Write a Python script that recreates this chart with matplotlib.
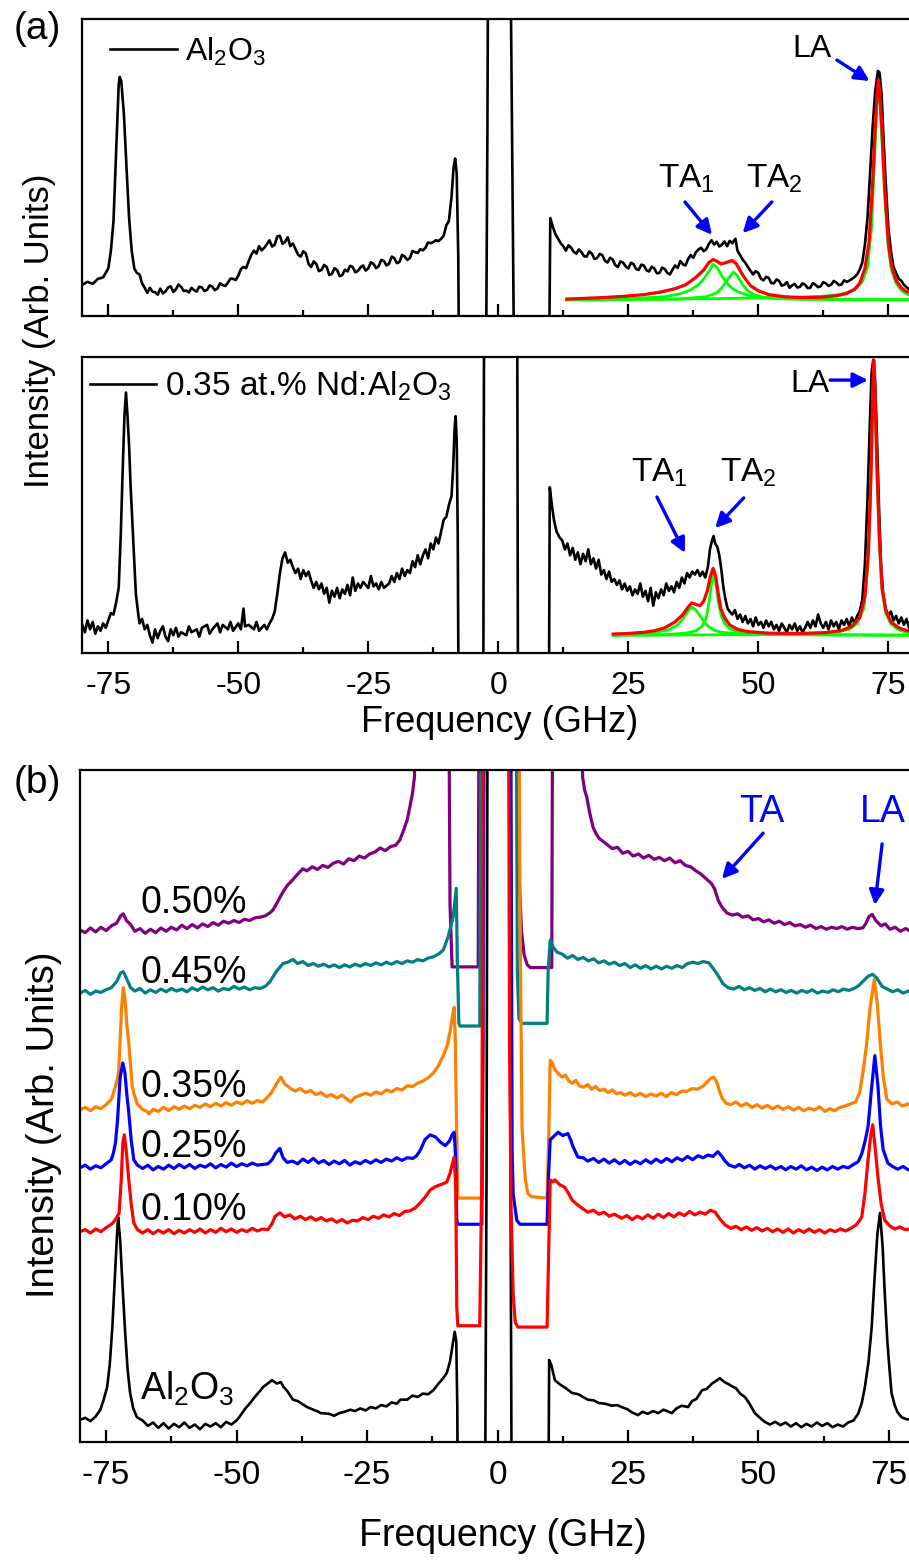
import matplotlib
matplotlib.use('Agg')
import matplotlib.pyplot as plt
from matplotlib.ticker import MultipleLocator

plt.rcParams['font.family'] = ['Liberation Sans', 'DejaVu Sans']
plt.rcParams['mathtext.fontset'] = 'custom'
plt.rcParams['mathtext.rm'] = 'Liberation Sans'
plt.rcParams['mathtext.it'] = 'Liberation Sans:italic'
plt.rcParams['mathtext.bf'] = 'Liberation Sans:bold'
plt.rcParams['mathtext.default'] = 'regular'
plt.rcParams['axes.unicode_minus'] = False

# ---- panel (a), top: pure Al2O3 spectrum (freq GHz, intensity arb.) ----
a1_al2o3 = [
    (-80, 10.5), (-79, 11.5), (-78, 10.8), (-77, 12.5), (-76, 13), (-75.5, 14.5), (-75, 16), (-74.5, 22),
    (-74, 32), (-73.5, 55), (-73, 78), (-72.8, 80.5), (-72.5, 79), (-72, 68), (-71.5, 50), (-71, 33),
    (-70.5, 22), (-70, 16), (-69.5, 14.5), (-69, 14), (-68.5, 11), (-68, 9.5), (-67.5, 7.8), (-67, 9.5),
    (-66.5, 8.2), (-66, 8), (-65.5, 7.2), (-65, 9.2), (-64.5, 7.6), (-64, 8.3), (-63.5, 9.6), (-63, 10),
    (-62.5, 8.1), (-62, 9), (-61.5, 10.6), (-61, 9.8), (-60.5, 8.4), (-60, 8.6), (-59.5, 7.9), (-59, 9.5),
    (-58.5, 8.7), (-58, 8.2), (-57.5, 9.9), (-57, 9.6), (-56.5, 8.4), (-56, 8.8), (-55.5, 10.3), (-55, 9.9),
    (-54.5, 8.7), (-54, 9.3), (-53.5, 11), (-53, 10.4), (-52.5, 10.1), (-52, 11.2), (-51.5, 12.6), (-51, 12.5),
    (-50.5, 12.1), (-50, 13.6), (-49.5, 15.8), (-49, 16.5), (-48.5, 16.1), (-48, 18.5), (-47.5, 20.6), (-47, 22),
    (-46.5, 21), (-46, 23.5), (-45.5, 22.1), (-45, 23), (-44.5, 24.2), (-44, 25.5), (-43.5, 23.4), (-43, 24),
    (-42.5, 26.8), (-42, 27), (-41.5, 24.3), (-41, 25), (-40.5, 26.5), (-40, 23.5), (-39.5, 24.4), (-39, 22.5),
    (-38.5, 20.6), (-38, 20), (-37.5, 21.8), (-37, 21), (-36.5, 17.6), (-36, 16.5), (-35.5, 18.4), (-35, 17.5),
    (-34.5, 15.1), (-34, 15.5), (-33.5, 17.2), (-33, 16.5), (-32.5, 13.8), (-32, 14.2), (-31.5, 16.1), (-31, 15.5),
    (-30.5, 13.4), (-30, 13.8), (-29.5, 15.6), (-29, 15), (-28.5, 16.9), (-28, 16.5), (-27.5, 14.7), (-27, 15.2),
    (-26.5, 16.4), (-26, 17), (-25.5, 15.3), (-25, 16), (-24.5, 18.1), (-24, 17.5), (-23.5, 16.1), (-23, 16.8),
    (-22.5, 18.9), (-22, 18.5), (-21.5, 17), (-21, 17.6), (-20.5, 20), (-20, 19.5), (-19.5, 17.8), (-19, 18.2),
    (-18.5, 20.6), (-18, 20), (-17.5, 18.9), (-17, 19.5), (-16.5, 21.9), (-16, 21.5), (-15.5, 21.2), (-15, 22.5),
    (-14.5, 22.1), (-14, 23), (-13.5, 24.8), (-13, 24.5), (-12.5, 24.9), (-12, 25.5), (-11.5, 25.2), (-11, 26),
    (-10.5, 27), (-10, 30.5), (-9.5, 32), (-9, 40), (-8.6, 50), (-8.3, 53), (-8, 48), (-7.7, 20),
    (-7.5, -30), (-2.4, -30), (-2.1, 60), (-1.9, 150), (2.2, 150), (2.7, 50), (3.1, -30), (9.7, -30),
    (10, 33), (10.5, 30), (11, 27.5), (11.5, 26), (12, 24.5), (12.5, 23.5), (13, 22), (13.5, 23.8),
    (14, 23), (14.5, 21.6), (15, 21), (15.5, 22.4), (16, 21.5), (16.5, 20.1), (17, 20), (17.5, 21.7),
    (18, 21), (18.5, 19.2), (19, 19.5), (19.5, 20.9), (20, 20.5), (20.5, 18.6), (21, 18), (21.5, 19.6),
    (22, 19), (22.5, 17.1), (23, 16.5), (23.5, 18.4), (24, 18), (24.5, 16.7), (25, 16), (25.5, 17.9),
    (26, 17.5), (26.5, 15.8), (27, 15.5), (27.5, 17.3), (28, 17), (28.5, 15.4), (29, 15), (29.5, 16.6),
    (30, 16), (30.5, 14.4), (31, 14.5), (31.5, 16.3), (32, 15.8), (32.5, 14.5), (33, 14), (33.5, 15.6),
    (34, 17), (34.5, 16.2), (35, 18.5), (35.5, 17.4), (36, 17), (36.5, 19.2), (37, 20.5), (37.5, 19.6),
    (38, 21.5), (38.5, 22.4), (39, 23), (39.5, 21.8), (40, 22.5), (40.5, 24.3), (41, 25.5), (41.5, 24.1),
    (42, 25), (42.5, 23.4), (43, 24), (43.5, 25.1), (44, 23.5), (44.5, 25.3), (45, 24.5), (45.6, 26),
    (46, 22), (46.5, 20.5), (47, 19), (47.5, 17.9), (48, 16.5), (48.5, 15.2), (49, 14), (49.5, 15.1),
    (50, 14.5), (50.5, 12.6), (51, 12), (51.5, 13.2), (52, 12.8), (52.5, 11.1), (53, 11), (53.5, 12.3),
    (54, 11.8), (54.5, 10.2), (55, 10.5), (55.5, 11.4), (56, 9.5), (56.5, 10.3), (57, 10.8), (57.5, 9.6),
    (58, 9.8), (58.5, 11), (59, 10.5), (59.5, 9.4), (60, 9.5), (60.5, 11.1), (61, 10.5), (61.5, 9.7),
    (62, 10), (62.5, 11.4), (63, 11), (63.5, 10.1), (64, 10.5), (64.5, 11.8), (65, 11.3), (65.5, 10.4),
    (66, 10.6), (66.5, 12), (67, 11.5), (67.5, 11.9), (68, 12.5), (68.5, 13.1), (69, 14), (69.5, 15.6),
    (70, 18), (70.5, 24), (71, 33), (71.5, 48), (72, 64), (72.5, 76), (73, 82.5), (73.3, 82),
    (73.7, 75), (74, 63), (74.5, 45), (75, 30), (75.5, 22), (76, 16.5), (76.5, 14.5), (77, 12.5),
    (77.5, 11.9), (78, 10.5), (78.5, 9.7), (79, 9), (79.5, 9.3), (80, 8.5),
]
a1_fit_sum = [
    (13.2, 5.7), (16, 5.9), (20, 6.2), (24, 6.6), (28, 7.2), (31, 8), (34, 9.2), (36, 10.5),
    (38, 13), (39.5, 15.5), (40.5, 18), (41.3, 19), (42, 18.5), (42.8, 17.5), (43.8, 18), (45, 18.7),
    (45.8, 17.5), (46.6, 15), (47.5, 12.5), (48.5, 10.2), (50, 8.5), (52, 7.2), (55, 6.5), (58, 6.2),
    (62, 6.3), (65, 6.8), (67, 7.6), (68.5, 9), (69.5, 11), (70.5, 16), (71.3, 25), (72, 45),
    (72.5, 64), (72.8, 74), (73.1, 79.5), (73.4, 74), (73.8, 62), (74.3, 43), (75, 25), (75.6, 17),
    (76.5, 12), (77.5, 9.5), (78.5, 8.2), (80, 7.8),
]
a1_fit_ta1 = [
    (13.2, 5.5), (25, 5.8), (32, 6.5), (35, 7.5), (37, 8.8), (38.5, 10.5), (39.5, 12.5), (40.5, 15),
    (41.3, 17.4), (42, 16.5), (43, 13.5), (44, 11), (45, 9.3), (46, 8.2), (48, 7), (50, 6.3),
    (55, 5.8), (60, 5.6), (80, 5.5),
]
a1_fit_ta2 = [
    (13.2, 5.4), (35, 5.7), (40, 6.5), (42, 7.8), (43, 9.5), (44, 12), (45.2, 14.8), (46, 13.5),
    (47, 10.5), (48, 8.5), (49, 7.3), (51, 6.3), (55, 5.8), (65, 5.5), (80, 5.4),
]
a1_fit_la = [
    (13.2, 5.5), (40, 5.8), (55, 6.2), (62, 6.6), (66, 7.3), (68.5, 8.8), (70, 11.5), (71, 16.5),
    (71.8, 30), (72.4, 55), (72.8, 71), (73.1, 77.5), (73.4, 72), (73.8, 58), (74.4, 38), (75, 23),
    (75.6, 15.5), (76.5, 11), (77.5, 8.6), (78.5, 7.4), (80, 6.6),
]

# ---- panel (a), bottom: 0.35 at.% Nd:Al2O3 ----
a2_nd035 = [
    (-80, 9.5), (-79.5, 7), (-79, 11), (-78.5, 8), (-78, 10.5), (-77.5, 6.5), (-77, 9), (-76.5, 7.5),
    (-76, 10), (-75.5, 8.5), (-75, 11), (-74.5, 13.5), (-74, 13), (-73.5, 17), (-73, 22), (-72.6, 40),
    (-72.3, 58), (-71.9, 80), (-71.6, 88), (-71.3, 80), (-71, 70), (-70.7, 56), (-70.4, 45), (-70, 30),
    (-69.7, 20), (-69.3, 14), (-69, 10), (-68.5, 11.5), (-68, 8), (-67.5, 9.5), (-67, 6), (-66.5, 3.5),
    (-66, 8), (-65.5, 5), (-65, 7.5), (-64.5, 9), (-64, 5.5), (-63.5, 4), (-63, 8), (-62.5, 6),
    (-62, 8.5), (-61.5, 5.5), (-61, 7), (-60, 6), (-59.5, 9), (-59, 7), (-58, 8), (-57.5, 5.5),
    (-57, 8.5), (-56, 9.5), (-55.5, 6.5), (-55, 8), (-54, 10), (-53.5, 7), (-53, 9.5), (-52, 8),
    (-51.5, 10.5), (-51, 7.5), (-50, 10), (-49.5, 8), (-49, 15), (-48.7, 9), (-48, 9.5), (-47, 8),
    (-46.5, 10.5), (-46, 7.5), (-45, 9.5), (-44.5, 8), (-44, 10), (-43.5, 11.5), (-43, 14), (-42.5, 20),
    (-42, 27), (-41.5, 32), (-41, 34), (-40.5, 30.5), (-40, 31.5), (-39.5, 29), (-39, 27), (-38.5, 28.5),
    (-38, 25), (-37.5, 28), (-37, 26), (-36.5, 27.5), (-36, 24.5), (-35.5, 22), (-35, 24), (-34.5, 21.5),
    (-34, 23.5), (-33.5, 20), (-33, 22), (-32.5, 17), (-32, 21), (-31.5, 19), (-31, 22), (-30.5, 18.5),
    (-30, 21.5), (-29.5, 20), (-29, 23), (-28.5, 19.5), (-28, 25.5), (-27.5, 21), (-27, 23.5), (-26.5, 22),
    (-26, 24), (-25, 22), (-24.5, 26), (-24, 22.5), (-23.5, 23.5), (-23, 21.5), (-22.5, 24), (-22, 22),
    (-21, 23.5), (-20.5, 26), (-20, 24), (-19.5, 27), (-19, 25), (-18.5, 28.5), (-18, 26), (-17.5, 28),
    (-17, 27), (-16.5, 31), (-16, 29), (-15.5, 33), (-15, 30), (-14.5, 33), (-14, 35), (-13.5, 32),
    (-13, 37), (-12.5, 35), (-12, 39), (-11.5, 37), (-11, 41), (-10.5, 45), (-10, 46), (-9.5, 50),
    (-9, 53), (-8.7, 62), (-8.4, 76), (-8.2, 80), (-8, 72), (-7.8, 40), (-7.6, -30), (-2.9, -30),
    (-2.7, 150), (3.6, 150), (3.8, -30), (9.7, -30), (9.9, 56), (10.3, 50), (10.7, 45), (11.2, 41),
    (11.8, 39), (12.3, 38), (12.8, 35), (13.3, 37), (13.8, 33), (14.3, 35.5), (14.8, 31.5), (15.3, 34),
    (15.8, 30), (16.3, 33.5), (16.8, 31), (17.3, 35), (17.8, 30), (18.3, 32), (18.8, 28.5), (19.3, 31.5),
    (19.8, 26.5), (20.3, 28), (20.8, 25), (21.3, 27.5), (21.8, 24), (22.3, 25), (22.8, 23), (23.3, 24.5),
    (23.8, 21.5), (24.3, 23.5), (24.8, 21), (25.3, 22.5), (25.8, 19.5), (26.3, 21.5), (26.8, 20), (27.3, 23.5),
    (27.8, 19), (28.3, 21), (28.8, 17.5), (29.3, 22), (29.8, 16), (30.3, 20.5), (30.8, 18.5), (31.3, 21.5),
    (31.8, 19.5), (32.3, 23.5), (32.8, 21), (33.3, 22.5), (33.8, 20.5), (34.3, 24), (34.8, 22), (35.3, 25.5),
    (35.8, 23.5), (36.3, 27), (36.8, 25.5), (37.3, 27.5), (37.8, 26.5), (38.3, 28), (38.8, 26), (39.3, 27.5),
    (39.8, 25.5), (40.3, 29), (40.7, 35), (41.1, 38), (41.4, 39.5), (41.7, 37), (42.1, 36), (42.5, 33),
    (42.9, 28), (43.3, 22), (43.7, 18), (44.1, 15), (44.5, 14), (45, 13), (45.5, 14.5), (46, 11.5),
    (46.5, 13), (47, 10.5), (47.5, 12.5), (48, 10), (48.5, 11.5), (49, 9), (49.5, 12), (50, 9.5),
    (50.5, 10.5), (51, 8.5), (51.5, 11), (52, 9), (52.5, 10.5), (53, 8), (53.5, 9.5), (54, 7.5),
    (54.5, 10), (55, 8.5), (55.5, 7), (56, 9.5), (56.5, 8), (57, 10), (57.5, 7.5), (58, 9),
    (58.5, 7), (59, 8.5), (59.5, 10.5), (60, 8.5), (60.5, 11), (61, 9), (61.5, 13), (62, 10),
    (62.5, 8.5), (63, 10.5), (63.5, 8), (64, 11), (64.5, 9), (65, 10.5), (65.5, 8), (66, 11),
    (66.5, 9.5), (67, 11.5), (67.5, 9), (68, 12), (68.5, 10), (69, 12.5), (69.5, 14), (70, 18),
    (70.5, 30), (71, 52), (71.4, 75), (71.8, 95), (72.1, 99), (72.4, 95), (72.8, 74), (73.2, 50),
    (73.6, 30), (74, 20), (74.5, 15), (75, 12.5), (75.5, 14), (76, 11), (76.5, 12.5), (77, 10),
    (77.5, 12), (78, 9.5), (78.5, 11.5), (79, 8.5), (79.5, 10), (80, 9),
]
a2_fit_sum = [
    (22.1, 6.4), (25, 6.6), (28, 7), (30, 7.5), (32, 8.5), (34, 10.5), (35.5, 13), (36.5, 15.5),
    (37.2, 16.9), (38, 16.4), (38.8, 16), (39.5, 17.5), (40.2, 21), (40.8, 26), (41.3, 28.6), (41.8, 26),
    (42.3, 20), (42.8, 15), (43.5, 12), (44.5, 9.5), (46, 8), (48, 7.2), (52, 6.7), (58, 6.6),
    (63, 6.9), (66, 7.6), (68, 9), (69.5, 12), (70.5, 19), (71.2, 35), (71.7, 62), (72, 88),
    (72.2, 99), (72.4, 90), (72.8, 64), (73.3, 38), (73.8, 22), (74.5, 14.5), (75.5, 10.5), (77, 8.5),
    (78.5, 7.6), (80, 7.1),
]
a2_fit_ta1 = [
    (22.1, 6.2), (28, 6.6), (31, 7.2), (33, 8), (34.5, 9.5), (35.5, 11.5), (36.3, 13.8), (37.2, 15.5),
    (38, 14.5), (38.8, 12.5), (39.6, 10.5), (40.5, 8.8), (41.5, 7.7), (43, 7), (46, 6.5), (52, 6.2),
    (65, 6.1), (80, 6.0),
]
a2_fit_ta2 = [
    (22.1, 6.0), (32, 6.2), (36, 6.7), (38, 7.5), (39.2, 9), (40, 12), (40.6, 18), (41, 23.5),
    (41.4, 27), (41.8, 24), (42.3, 17.5), (42.8, 13), (43.5, 10), (44.5, 8.2), (46, 7.2), (50, 6.5),
    (60, 6.2), (80, 6.0),
]
a2_fit_la = [
    (22.1, 6.0), (50, 6.2), (60, 6.5), (65, 7.0), (67.5, 8), (69, 10), (70.3, 15), (71.1, 30),
    (71.6, 55), (72, 85), (72.2, 98), (72.4, 88), (72.8, 62), (73.3, 36), (73.8, 21), (74.5, 13.5),
    (75.5, 9.8), (77, 7.8), (78.5, 7), (80, 6.6),
]

# ---- panel (b): stacked spectra for the Nd concentrations ----
b_050 = [
    (-80, 76.2), (-79, 75.8), (-78, 76.5), (-77, 75.9), (-76, 76.6), (-75, 76.1), (-74, 76.8), (-73, 77.2),
    (-72.2, 78.3), (-71.7, 78.6), (-71.1, 77.6), (-70.3, 77), (-69.5, 76), (-68.5, 76.4), (-67.5, 75.7), (-66.5, 76.3),
    (-65.5, 75.8), (-64.5, 76.5), (-63.5, 76), (-62.5, 76.6), (-61.5, 76.2), (-60.5, 76.9), (-59.5, 76.4), (-58.5, 77),
    (-57.5, 76.5), (-56.5, 77.1), (-55.5, 76.7), (-54.5, 77.3), (-53.5, 76.9), (-52.5, 77.5), (-51.5, 77.2), (-50.5, 77.6),
    (-49.5, 77.3), (-48.5, 77.8), (-47.5, 77.6), (-46.5, 78), (-45.5, 78.1), (-44.5, 78.3), (-43.7, 78.7), (-43, 79.2),
    (-42.2, 80.3), (-41.3, 81.6), (-40.3, 82.8), (-39.3, 83.6), (-38.3, 84.5), (-37.3, 85.3), (-36.5, 85), (-35.5, 85.6),
    (-34.5, 85.2), (-33.5, 85.8), (-32.5, 85.5), (-31.5, 86.1), (-30.5, 86.4), (-29.5, 86), (-28.5, 86.8), (-27.5, 86.5),
    (-26.5, 87.2), (-25.5, 86.9), (-24.5, 87.5), (-23.5, 87.8), (-22.5, 88.4), (-21.5, 88), (-20.5, 88.6), (-19.5, 88.8),
    (-18.7, 89.6), (-18, 91), (-17.3, 92.6), (-16.8, 94.5), (-16.3, 96.5), (-15.9, 99), (-15.7, 150), (-9.6, 150),
    (-9.1, 80), (-8.7, 70.7), (-3.7, 70.7), (-3.4, 150), (3.7, 150), (4.1, 85), (4.6, 76), (5.1, 72.5),
    (5.7, 71), (6.3, 70.6), (10.4, 70.6), (10.7, 150), (16.1, 150), (16.3, 99), (16.7, 97), (17.1, 96),
    (17.7, 93.5), (18.3, 91.5), (18.9, 90.5), (19.5, 89.8), (20.2, 89.4), (21, 88.9), (22, 88.3), (23, 88.5),
    (24, 87.6), (25, 87.9), (26, 87.2), (27, 87.5), (28, 86.9), (29, 87.3), (30, 86.7), (31, 87),
    (32, 86.5), (33, 86.9), (34, 86.2), (35, 86.5), (36, 85.8), (37, 85.6), (38, 85), (39, 84.5),
    (40, 83.8), (41, 83.1), (41.6, 82.3), (42.3, 80.6), (43, 79.6), (44, 78.7), (45, 78.4), (46, 78.6),
    (47, 78.1), (48, 78.3), (49, 77.7), (50, 77.9), (51, 77.4), (52, 77.7), (53, 77.2), (54, 77.5),
    (55, 77), (56, 77.3), (57, 76.8), (58, 77), (59, 76.6), (60, 76.9), (61, 76.4), (62, 76.7),
    (63, 76.3), (64, 76.6), (65, 76.4), (66, 76.7), (67, 76.3), (68, 76.6), (69, 76.4), (70, 76.5),
    (70.6, 77.2), (71.2, 78.2), (71.8, 78.5), (72.5, 77.6), (73.5, 76.8), (74.3, 77.1), (75.2, 76.3), (76.2, 76.6),
    (77.2, 76), (78.2, 76.4), (79.2, 76), (80, 76.2),
]
b_045 = [
    (-80, 66.8), (-79, 67.2), (-78, 66.6), (-77, 67.1), (-76, 66.9), (-75, 67.3), (-74, 67.6), (-73, 68.5),
    (-72.2, 69.8), (-71.7, 70), (-71.1, 69), (-70.3, 67.6), (-69.5, 67.1), (-68.5, 67.5), (-67.5, 66.8), (-66.5, 67.3),
    (-65.5, 66.9), (-64.5, 67.4), (-63.5, 67), (-62.5, 67.5), (-61.5, 67.1), (-60.5, 67.4), (-59.5, 67), (-58.5, 67.6),
    (-57.5, 67.2), (-56.5, 67.7), (-55.5, 67.3), (-54.5, 67.6), (-53.5, 67.1), (-52.5, 67.5), (-51.5, 67.3), (-50.5, 67.8),
    (-49.5, 67.4), (-48.5, 67.7), (-47.5, 67.3), (-46.5, 67.6), (-45.5, 67.5), (-44.5, 67.8), (-43.6, 68.5), (-42.4, 70),
    (-41.1, 71.2), (-40.2, 71.4), (-39.2, 71.8), (-38.3, 71.2), (-37.3, 71.5), (-36.3, 70.9), (-35.3, 71.2), (-34.3, 70.8),
    (-33.3, 71.1), (-32.3, 70.7), (-31.3, 71), (-30.3, 70.6), (-29.3, 71), (-28.3, 70.7), (-27.3, 71.1), (-26.3, 70.8),
    (-25.3, 71.2), (-24.3, 70.9), (-23.3, 71.3), (-22.3, 71), (-21.3, 71.4), (-20.3, 71.1), (-19.3, 71.5), (-18.3, 71.2),
    (-17.3, 71.6), (-16.3, 71.4), (-15.3, 71.8), (-14.3, 71.6), (-13.3, 72), (-12.3, 72.2), (-11.3, 72.6), (-10.4, 73.2),
    (-9.5, 75.1), (-8.5, 78.1), (-7.9, 82.4), (-7.7, 71.7), (-7.4, 62.3), (-7.2, 61.9), (-3.4, 61.9), (-2.9, 150),
    (3.4, 150), (3.8, 70), (4.1, 63), (4.7, 62.3), (9.5, 62.3), (9.7, 70), (10.1, 74.7), (10.7, 73.6),
    (11.4, 72.9), (12.4, 72.6), (13.4, 72), (14.4, 72.4), (15.4, 71.8), (16.4, 72.1), (17.4, 71.6), (18.4, 71.9),
    (19.4, 71.3), (20.4, 71.6), (21.4, 71.1), (22.4, 71.4), (23.4, 70.9), (24.4, 71.2), (25.4, 70.6), (26.4, 71),
    (27.4, 70.5), (28.4, 70.9), (29.4, 70.4), (30.4, 70.8), (31.4, 70.4), (32.4, 70.8), (33.4, 70.5), (34.4, 70.9),
    (35.4, 70.6), (36.4, 71.2), (37.4, 71.4), (38.4, 71.2), (39.4, 71.5), (40.5, 71.3), (41.3, 70.5), (42.2, 69.5),
    (43.2, 68.2), (44.2, 67.6), (45.3, 67.4), (46.3, 67.8), (47.3, 67.3), (48.3, 67.6), (49.3, 67.2), (50.3, 67.5),
    (51.3, 67), (52.3, 67.4), (53.3, 67), (54.3, 67.3), (55.3, 66.9), (56.3, 67.2), (57.3, 66.8), (58.3, 67.2),
    (59.3, 66.9), (60.3, 67.3), (61.3, 66.8), (62.3, 67.1), (63.3, 66.9), (64.3, 67.3), (65.3, 67), (66.3, 67.4),
    (67.3, 67.2), (68.3, 67.5), (69.2, 67.9), (70.1, 68.6), (71, 69.3), (71.9, 69.6), (72.7, 69), (73.7, 67.8),
    (74.7, 67.4), (75.7, 67), (76.7, 67.3), (77.7, 66.8), (78.7, 67.1), (80, 66.8),
]
b_035 = [
    (-80, 49.4), (-79, 49.8), (-78, 49.3), (-77, 49.9), (-76, 49.6), (-75, 50.2), (-74, 51), (-73.6, 51.9),
    (-73, 53.5), (-72.6, 55), (-72.3, 60), (-72, 65), (-71.7, 67.6), (-71.4, 66), (-71, 62), (-70.7, 59.8),
    (-70.3, 56), (-70, 53), (-69.7, 51.9), (-69, 50.3), (-68.5, 49.9), (-68, 49.5), (-67, 49.1), (-66.8, 48.8),
    (-66, 49.5), (-65, 49.2), (-64, 49.8), (-63, 49.3), (-62, 49.9), (-61, 49.5), (-60, 50), (-59, 49.6),
    (-58, 50.1), (-57, 49.8), (-56, 50.3), (-55, 49.9), (-54, 50.4), (-53, 50), (-52, 50.5), (-51, 50.1),
    (-50, 50.6), (-49, 50.3), (-48, 50.8), (-47, 50.4), (-46, 50.8), (-45, 50.6), (-44.2, 51.2), (-43.3, 52),
    (-42.2, 53.5), (-41.5, 54.3), (-40.8, 53.3), (-39.8, 52.7), (-38.8, 52.2), (-37.8, 52.6), (-36.8, 52), (-35.8, 52.3),
    (-34.8, 51.7), (-33.8, 52), (-32.8, 51.4), (-31.8, 51.7), (-30.8, 51.2), (-29.8, 51.6), (-28.8, 51), (-28.1, 50.6),
    (-27.3, 51.3), (-26.3, 51.6), (-25.3, 51.9), (-24.3, 51.6), (-23.3, 52.1), (-22.3, 51.8), (-21.3, 52.4), (-20.3, 52.1),
    (-19.3, 52.6), (-18.3, 52.4), (-17.3, 53), (-16.3, 52.9), (-15.3, 53.4), (-14.3, 53.7), (-13.3, 54.2), (-12.3, 54.9),
    (-11.3, 56), (-10.4, 57.5), (-9.7, 58.8), (-9.1, 61), (-8.6, 63.5), (-8.3, 64.7), (-8.1, 60), (-7.8, 45),
    (-7.6, 36.3), (-3.0, 36.3), (-2.7, 60), (-2.3, 150), (3.9, 150), (4.3, 80), (4.7, 46.7), (5.3, 39.3),
    (5.8, 37), (6.5, 36.5), (9.5, 36.3), (9.8, 45), (10.1, 56.8), (10.5, 56.4), (11, 55.4), (11.7, 54.8),
    (12.4, 54.3), (13, 54.6), (13.7, 53.7), (14.3, 53.4), (15, 53.8), (15.7, 53), (16.5, 52.8), (17.3, 53.2),
    (18, 52.5), (18.8, 52.9), (19.6, 52.3), (20.4, 52.5), (21.2, 52), (22, 52.4), (22.8, 51.8), (23.6, 52),
    (24.4, 51.6), (25.4, 52), (26.4, 51.5), (27.4, 51.9), (28.4, 51.4), (29.4, 51.8), (30.4, 51.5), (31.4, 51.9),
    (32.3, 51.4), (33.3, 52), (34.3, 51.7), (35.3, 52.2), (36.3, 52.2), (37.3, 52.6), (38.3, 52.5), (39.3, 52.9),
    (40.1, 53.5), (40.8, 54.1), (41.4, 54.3), (42, 53.6), (42.5, 52.3), (43.1, 51.1), (43.8, 50.4), (44.7, 50.2),
    (45.7, 50.6), (46.7, 50), (47.7, 50.4), (48.7, 49.8), (49.7, 50.2), (50.7, 49.7), (51.7, 50.1), (52.7, 49.6),
    (53.7, 50), (54.7, 49.5), (55.7, 49.9), (56.7, 49.4), (57.7, 49.8), (58.7, 49.3), (59.7, 49.7), (60.7, 49.4),
    (61.7, 49.9), (62.7, 49.2), (63.7, 49.6), (64.6, 49.3), (65.6, 49.8), (66.6, 50), (67.6, 50.3), (68.6, 50.6),
    (69.4, 52), (70, 54.9), (70.7, 59), (71.4, 64.7), (72.2, 68.8), (72.8, 65), (73.3, 59.8), (73.9, 54.5),
    (74.6, 51), (75.6, 50.3), (76.6, 50.6), (77.6, 50), (78.6, 50.3), (80, 50),
]
b_025 = [
    (-80, 40.8), (-79, 41.2), (-78, 40.6), (-77, 41.1), (-76, 40.8), (-75, 41.4), (-74, 42), (-73.6, 43),
    (-73.2, 44.5), (-72.8, 48), (-72.3, 54.3), (-71.8, 56.4), (-71.4, 55), (-71, 51.5), (-70.7, 49.4), (-70.2, 45),
    (-69.7, 42), (-69, 41.2), (-68, 40.7), (-67, 41.2), (-66, 40.5), (-65, 41), (-64, 40.6), (-63, 41.2),
    (-62, 40.7), (-61, 41.3), (-60, 40.8), (-59, 41.3), (-58, 40.7), (-57, 41.2), (-56, 40.9), (-55, 41.4),
    (-54, 40.8), (-53, 41.3), (-52, 40.9), (-51, 41.5), (-50, 41), (-49, 41.4), (-48, 41.1), (-47, 41.5),
    (-46, 41.2), (-45, 41.3), (-44, 41.4), (-43.2, 42), (-42.5, 43), (-41.7, 43.7), (-41.1, 42.3), (-40.3, 41.6),
    (-39.3, 41.8), (-38.3, 41.4), (-37.3, 42.1), (-36.3, 41.6), (-35.3, 42.2), (-34.3, 41.5), (-33.3, 41.9), (-32.3, 41.3),
    (-31.3, 41.8), (-30.3, 41.4), (-29.3, 41.9), (-28.3, 41.2), (-27.3, 41.7), (-26.3, 41.4), (-25.3, 41.9), (-24.3, 41.5),
    (-23.3, 42), (-22.3, 41.6), (-21.3, 42.1), (-20.3, 41.8), (-19.3, 42.3), (-18.3, 41.9), (-17.3, 42.3), (-16.2, 42.2),
    (-15.5, 42.6), (-14.8, 43.4), (-13.9, 45), (-12.9, 45.7), (-11.9, 45.4), (-10.9, 44.6), (-10, 44.1), (-9.2, 44.8),
    (-8.7, 45.7), (-8.3, 46.1), (-8.0, 42), (-7.8, 33), (-7.6, 32.4), (-3.0, 32.4), (-2.8, 60), (-2.5, 150),
    (2.4, 150), (2.8, 43.5), (3.0, 36.9), (3.7, 33), (4.3, 32.4), (9.5, 32.4), (9.8, 40), (10.1, 45),
    (10.4, 45.2), (11.6, 46.1), (12.5, 45.6), (13.5, 45.9), (14.1, 44.8), (14.5, 43.9), (15.4, 42.4), (16.4, 42.3),
    (17.3, 41.8), (18.4, 42.2), (19.4, 41.6), (20.4, 42.1), (21.4, 41.5), (22.4, 42), (23.4, 41.4), (24.4, 41.9),
    (25.4, 41.3), (26.4, 41.8), (27.4, 41.4), (28.4, 42), (29.4, 41.5), (30.4, 42.1), (31.4, 41.6), (32.4, 42.2),
    (33.4, 41.7), (34.4, 42.3), (35.4, 41.9), (36.4, 42.5), (37.4, 42), (38.4, 42.6), (39.4, 42.3), (40.3, 42.7),
    (41.3, 42.5), (42.2, 43.2), (42.9, 42.6), (43.6, 41.8), (44.4, 41.2), (45.5, 40.9), (46.3, 41.3), (47.3, 40.8),
    (48.3, 41.2), (49.3, 40.6), (50.3, 41.1), (51.3, 40.7), (52.3, 41.1), (53.3, 40.6), (54.3, 41), (55.2, 40.5),
    (56.2, 41), (57.2, 40.6), (58.2, 41.1), (59.2, 40.5), (60.2, 40.9), (61.2, 40.4), (62.2, 40.9), (63.2, 40.5),
    (64.2, 41), (65.2, 40.6), (66.2, 41), (67.2, 40.8), (68.2, 41.3), (69.1, 41.7), (69.8, 42.9), (70.5, 45),
    (71, 46.9), (71.6, 52), (72.3, 57.5), (72.9, 53), (73.4, 47), (73.9, 43.5), (74.8, 41.5), (75.7, 41),
    (76.7, 40.6), (77.7, 41), (78.7, 40.5), (80, 40.7),
]
b_010 = [
    (-80, 31.3), (-79, 31.6), (-78, 31.1), (-77, 31.7), (-76, 31.3), (-75, 31.9), (-74, 32.4), (-73.6, 32.7),
    (-72.9, 33.5), (-72.5, 34.1), (-72.1, 39), (-71.8, 44.5), (-71.5, 45.7), (-71.1, 43), (-70.7, 39.4), (-70.2, 35.5),
    (-69.7, 32.6), (-69, 31.6), (-68, 31.1), (-67, 31.6), (-66, 31), (-65, 31.5), (-64, 31.1), (-63, 31.6),
    (-62, 31), (-61, 31.5), (-60, 31.1), (-59, 31.6), (-58, 31.2), (-57, 31.7), (-56, 31.1), (-55, 31.6),
    (-54, 31.2), (-53, 31.8), (-52, 31.3), (-51, 31.7), (-50, 31.2), (-49, 31.6), (-48, 31.3), (-47, 31.8),
    (-46, 31.4), (-45, 31.7), (-44, 31.6), (-43.2, 32.5), (-42.6, 33.6), (-41.7, 34.1), (-40.8, 33.5), (-39.8, 33.8),
    (-38.8, 33.2), (-37.8, 33.6), (-36.8, 33.1), (-35.8, 33.5), (-34.8, 33), (-33.8, 33.4), (-32.8, 32.9), (-31.8, 33.2),
    (-30.8, 32.7), (-29.8, 33.1), (-28.8, 32.6), (-27.8, 33), (-26.8, 32.9), (-25.8, 33.4), (-24.8, 33.1), (-23.8, 33.6),
    (-22.8, 33.3), (-21.8, 33.8), (-20.8, 33.5), (-19.8, 34), (-18.8, 33.7), (-17.8, 34.3), (-16.8, 34.4), (-15.8, 34.8),
    (-14.8, 35.6), (-13.8, 36.5), (-12.9, 37.5), (-11.9, 38), (-10.9, 38.3), (-10.2, 38.5), (-9.7, 38.7), (-9.1, 40),
    (-8.6, 41.5), (-8.3, 42.4), (-8.0, 38), (-7.8, 20), (-7.6, 17.3), (-3.4, 17.3), (-3.0, 40), (-2.6, 150),
    (2.0, 150), (2.3, 60), (2.6, 35), (3.0, 22), (3.4, 17.8), (3.9, 17.1), (9.5, 17.1), (9.8, 28),
    (10.1, 39), (10.6, 38.7), (11, 39), (11.9, 38.3), (12.9, 37.9), (13.6, 37), (14.3, 36), (15, 35.5),
    (16, 34.9), (17.3, 34.2), (18.4, 34.5), (19.4, 33.9), (20.4, 34.2), (21.4, 33.6), (22.4, 33.9), (23.8, 33.3),
    (24.8, 33.7), (25.8, 33.1), (26.8, 33.6), (27.8, 33.2), (28.8, 33.8), (29.8, 33.3), (30.8, 33.9), (31.8, 33.4),
    (32.8, 34), (33.8, 33.5), (34.8, 34.1), (35.8, 33.7), (36.8, 34.3), (37.8, 33.8), (38.8, 34.2), (39.8, 33.9),
    (40.8, 34.5), (41.7, 34.2), (42.6, 33.2), (43.6, 32.3), (44.7, 31.8), (45.7, 32.1), (46.7, 31.6), (47.7, 32),
    (48.7, 31.5), (49.7, 31.9), (50.7, 31.4), (51.7, 31.8), (52.7, 31.3), (53.7, 31.7), (54.7, 31.2), (55.7, 31.7),
    (56.7, 31.1), (57.7, 31.6), (58.7, 31.2), (59.7, 31.7), (60.7, 31.2), (61.7, 31.6), (62.7, 31.1), (63.7, 31.6),
    (64.7, 31.3), (65.7, 31.7), (66.7, 31.4), (67.7, 31.8), (68.7, 32.3), (69.4, 33), (69.8, 33.5), (70.4, 37),
    (71, 42), (71.5, 45.5), (71.9, 47.2), (72.4, 43.5), (72.9, 39.4), (73.5, 35.5), (74.2, 33), (75.1, 32.2),
    (76.1, 31.7), (77.1, 32), (78.1, 31.6), (80, 31.8),
]
b_al2o3 = [
    (-80, 3.3), (-79, 3.6), (-78, 3.1), (-77, 3.8), (-76.1, 4.8), (-75.5, 6.2), (-74.8, 8.2), (-74.3, 11.5),
    (-73.8, 17.1), (-73.3, 25), (-72.9, 31), (-72.7, 33.5), (-72.3, 30), (-71.9, 24), (-71.4, 17), (-70.9, 11),
    (-70.4, 7.3), (-69.8, 5), (-69.1, 3.7), (-68, 3.2), (-67, 2.4), (-66, 2.9), (-65, 2.1), (-64, 2.8),
    (-63, 2), (-62, 2.7), (-61, 2.2), (-60, 2.9), (-59, 2.1), (-58, 2.6), (-57, 1.9), (-56, 2.7),
    (-55, 2.3), (-54, 2.8), (-53, 2.2), (-52, 3), (-51, 2.6), (-50, 3.2), (-49.3, 3.9), (-48.3, 5),
    (-47.4, 5.8), (-46.3, 6.9), (-45.5, 7.6), (-44.9, 8.2), (-44.2, 8.6), (-43.2, 9.2), (-42.3, 8.7), (-41.5, 8.9),
    (-41, 8.2), (-40.3, 7.6), (-39.2, 6.3), (-38.3, 6.1), (-37.3, 5.6), (-36.5, 5.2), (-35.3, 4.8), (-34.3, 4.5),
    (-33.9, 4.3), (-32.3, 4.2), (-31.3, 3.9), (-30.3, 4.3), (-29.3, 4.5), (-28.2, 4.8), (-27.3, 4.6), (-26.3, 5),
    (-25.3, 4.7), (-24.3, 5.2), (-23.3, 5), (-22.3, 5.5), (-21.3, 5.3), (-20.3, 5.9), (-19.3, 5.7), (-18.6, 6.3),
    (-17.3, 6.3), (-16.3, 6.9), (-15.3, 6.7), (-14.3, 7.2), (-13.3, 7.1), (-12.3, 7.7), (-11.4, 8.6), (-10.4, 9.5),
    (-9.7, 10.3), (-9.1, 12), (-8.6, 14.5), (-8.2, 16.4), (-7.9, 15), (-7.7, 5), (-7.5, -30), (-2.5, -30),
    (-2.1, 40), (-1.8, 150), (2.0, 150), (2.5, 40), (2.8, -30), (9.6, -30), (9.9, 12.2), (10.3, 11.5),
    (11, 9.2), (11.9, 8.6), (12.9, 8.1), (14.3, 7.3), (15.5, 7.1), (17.3, 6.3), (18.4, 6.2), (19.4, 5.8),
    (20.6, 5.7), (21.9, 5.4), (22.9, 5.5), (23.8, 5.2), (24.8, 4.9), (25.8, 4.4), (26.9, 4), (27.8, 4.5),
    (28.8, 4.2), (29.8, 4.6), (30.8, 4.3), (31.8, 4.8), (32.8, 4.5), (33.4, 4.3), (34.3, 5), (35.3, 5.4),
    (36.5, 5.2), (37.3, 6.1), (38.1, 6.4), (39.2, 7.7), (40.1, 7.9), (41.1, 8.7), (41.9, 9.1), (42.6, 9.5),
    (43.5, 8.9), (44.3, 8.6), (44.9, 8.3), (45.7, 8), (46.5, 7.2), (47.4, 6.7), (48.3, 5.7), (49.3, 4.3),
    (50.3, 3.6), (51.2, 3), (52.2, 2.6), (53.2, 3), (54.2, 2.5), (55.2, 2.9), (56.2, 2.3), (57.2, 2.8),
    (58.2, 2.2), (59.2, 2.7), (60.2, 2.3), (61.2, 2.9), (62.2, 2.4), (63.2, 2.8), (64.2, 2.2), (65.2, 2.6),
    (66.2, 2.3), (67.2, 2.9), (68.2, 3.2), (69.1, 4.2), (69.8, 5.8), (70.4, 8.2), (71.1, 12), (71.7, 17.1),
    (72.3, 25), (72.8, 31), (73.3, 34.1), (73.8, 29), (74.2, 22.2), (74.7, 15), (75.1, 11), (75.5, 7.3),
    (76.1, 5.5), (76.6, 4.5), (77.4, 3.7), (78.3, 3.4), (80, 3.3),
]

b_series = [
    (b_al2o3, 'black', 'Al$_2$O$_3$', 6.25),
    (b_050, '#800080', '0.50%', 78.7),
    (b_045, '#008080', '0.45%', 68.3),
    (b_035, '#FF8000', '0.35%', 51.3),
    (b_025, '#0000FF', '0.25%', 42.4),
    (b_010, '#FF0000', '0.10%', 33.0),
]

GREEN = '#00FF00'
RED = '#FF0000'
BLUE = '#0000FF'


def xy(pairs):
    return [p[0] for p in pairs], [p[1] for p in pairs]


def style(ax, labels=True, size=23):
    ax.set_xlim(-80, 80)
    ax.set_ylim(0, 100)
    ax.set_yticks([])
    ax.xaxis.set_major_locator(MultipleLocator(25))
    ax.xaxis.set_minor_locator(MultipleLocator(12.5))
    ax.tick_params(axis='x', which='both', direction='in', top=False, width=1.6,
                   labelsize=size, pad=13, labelbottom=labels)
    ax.tick_params(axis='x', which='major', length=8.5)
    ax.tick_params(axis='x', which='minor', length=4)
    for s in ax.spines.values():
        s.set_linewidth(1.6)


def arrow(ax, start, end):
    ax.annotate('', xy=end, xytext=start,
                arrowprops=dict(arrowstyle='-|>', color=BLUE, lw=2.4,
                                mutation_scale=22, shrinkA=0, shrinkB=0))


W, H = 909, 1560
fig = plt.figure(figsize=(W / 100, H / 100), dpi=100)
ax1 = fig.add_axes([82.3 / W, 1 - 316 / H, 832 / W, 297 / H])
ax2 = fig.add_axes([82.3 / W, 1 - 653 / H, 832 / W, 296 / H])
ax3 = fig.add_axes([80 / W, 1 - 1442 / H, 835 / W, 672 / H])

# (a) top
f, i = xy(a1_al2o3)
ax1.plot(f, i, color='black', lw=1.9, zorder=2, label='Al$_2$O$_3$')
for fit in (a1_fit_ta1, a1_fit_ta2, a1_fit_la):
    ax1.plot(*xy(fit), color=GREEN, lw=2.0, zorder=3)
ax1.plot(*xy(a1_fit_sum), color=RED, lw=2.3, zorder=4)
style(ax1, labels=False)
ax1.legend(loc='center left', bbox_to_anchor=(0.033, 0.89), frameon=False, fontsize=23,
           handlelength=2.1, handletextpad=0.25, borderaxespad=0, borderpad=0)
ax1.text(60.3, 87.2, 'LA', fontsize=23, ha='center', va='baseline')
arrow(ax1, (65.1, 86.2), (71.4, 79.1))
ax1.text(36.2, 43.4, 'TA$_1$', fontsize=24, ha='center', va='baseline')
ax1.text(53.1, 43.4, 'TA$_2$', fontsize=24, ha='center', va='baseline')
arrow(ax1, (35.9, 38.4), (41.1, 27.3))
arrow(ax1, (52.6, 38.4), (47.0, 27.9))

# (a) bottom
f, i = xy(a2_nd035)
ax2.plot(f, i, color='black', lw=1.9, zorder=2, label='0.35 at.% Nd:Al$_2$O$_3$')
for fit in (a2_fit_ta1, a2_fit_ta2, a2_fit_la):
    ax2.plot(*xy(fit), color=GREEN, lw=2.0, zorder=3)
ax2.plot(*xy(a2_fit_sum), color=RED, lw=2.3, zorder=4)
style(ax2)
ax2.legend(loc='center left', bbox_to_anchor=(0.009, 0.90), frameon=False, fontsize=24,
           handlelength=2.0, handletextpad=0.25, borderaxespad=0, borderpad=0)
ax2.text(59.9, 88.2, 'LA', fontsize=23, ha='center', va='baseline')
arrow(ax2, (63.8, 92.2), (71.1, 92.2))
ax2.text(30.9, 57.8, 'TA$_1$', fontsize=24, ha='center', va='baseline')
ax2.text(48.0, 57.8, 'TA$_2$', fontsize=24, ha='center', va='baseline')
arrow(ax2, (30.5, 52.7), (35.9, 33.8))
arrow(ax2, (47.2, 52.4), (41.7, 42.2))

# (b)
for data, color, label, ylab in b_series:
    f, i = xy(data)
    ax3.plot(f, i, color=color, lw=2.3 if color != 'black' else 1.9)
    ax3.text(-68.5, ylab, label, fontsize=27, va='baseline', ha='left')
style(ax3, size=24)
ax3.text(50.6, 92.3, 'TA', fontsize=27, color=BLUE, ha='center', va='baseline')
ax3.text(73.9, 92.3, 'LA', fontsize=27, color=BLUE, ha='center', va='baseline')
arrow(ax3, (50.9, 90.6), (43.0, 83.8))
arrow(ax3, (73.7, 89.0), (72.3, 79.9))

# labels
fig.text(40 / W, 1 - 331 / H, 'Intensity (Arb. Units)', rotation=90, ha='center', va='center', fontsize=25)
fig.text(500 / W, 1 - 722 / H, 'Frequency (GHz)', ha='center', va='center', fontsize=26)
fig.text(44 / W, 1 - 1125 / H, 'Intensity (Arb. Units)', rotation=90, ha='center', va='center', fontsize=27.5)
fig.text(503 / W, 1 - 1536 / H, 'Frequency (GHz)', ha='center', va='center', fontsize=27)
fig.text(37 / W, 1 - 29 / H, '(a)', ha='center', va='center', fontsize=28)
fig.text(37 / W, 1 - 783 / H, '(b)', ha='center', va='center', fontsize=28)

fig.savefig('out.png', dpi=100)
